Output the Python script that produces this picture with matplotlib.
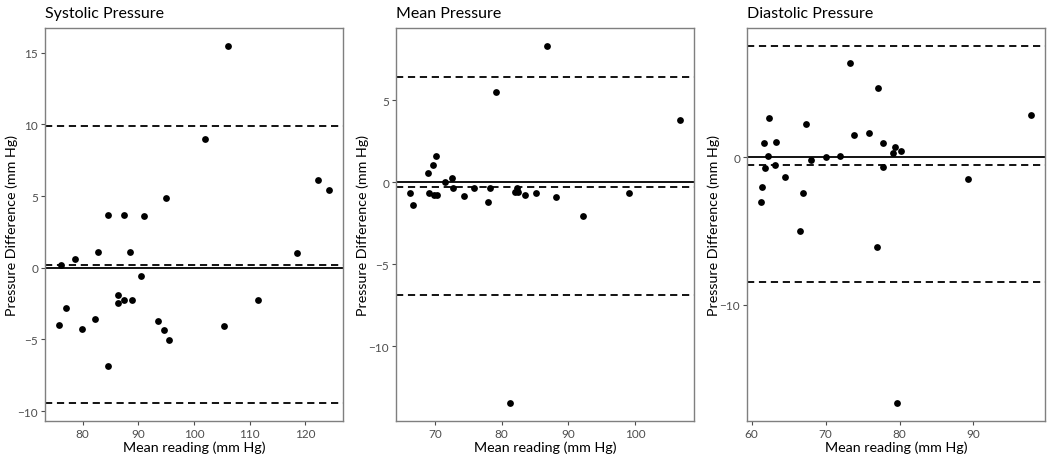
import matplotlib
matplotlib.use("Agg")
import matplotlib.pyplot as plt
import numpy as np

plt.rcParams['font.family'] = ['Lato', 'DejaVu Sans']

# systolic: mean reading vs difference
sys_mean = [106.1, 101.9, 122.3, 124.3, 94.9, 84.5, 87.4, 91.0, 82.8, 88.5, 118.4, 78.6, 76.1, 90.5,
            86.3, 86.3, 87.4, 88.8, 111.5, 77.0, 82.2, 75.7, 79.9, 93.6, 94.6, 95.6, 105.4, 84.5]
sys_diff = [15.48, 8.96, 6.15, 5.45, 4.85, 3.71, 3.71, 3.6, 1.07, 1.11, 1.04, 0.63, 0.21, -0.58,
            -1.90, -2.46, -2.25, -2.25, -2.25, -2.78, -3.55, -3.99, -4.25, -3.74, -4.32, -5.06, -4.08, -6.82]
sys_lines = [9.86, 0.21, -9.44]

# mean pressure
map_mean = [86.8, 79.1, 106.8, 70.1, 69.75, 68.95, 71.5, 72.5, 66.2, 66.7, 69.05, 69.9, 70.25, 72.7,
            74.4, 75.8, 77.9, 78.3, 82.0, 82.3, 82.5, 83.45, 85.1, 88.1, 92.2, 99.1, 81.3]
map_diff = [8.33, 5.51, 3.79, 1.64, 1.07, 0.59, 0.04, 0.28, -0.65, -1.40, -0.67, -0.77, -0.75, -0.36,
            -0.83, -0.36, -1.22, -0.32, -0.61, -0.34, -0.57, -0.77, -0.67, -0.87, -2.03, -0.63, -13.46]
map_lines = [6.43, -0.26, -6.89]

# diastolic
dia_mean = [73.3, 77.1, 97.85, 62.4, 67.3, 73.8, 75.85, 61.6, 63.3, 77.8, 79.4, 79.1, 80.2, 62.2,
            72.0, 70.1, 68.0, 61.75, 63.2, 77.7, 64.45, 61.4, 66.9, 61.2, 89.3, 66.6, 77.0, 79.6]
dia_diff = [6.40, 4.68, 2.88, 2.64, 2.27, 1.51, 1.64, 0.97, 1.06, 0.97, 0.72, 0.25, 0.43, 0.11,
            0.11, 0.0, -0.16, -0.72, -0.52, -0.65, -1.35, -2.0, -2.41, -3.04, -1.49, -4.98, -6.13, -16.69]
dia_lines = [7.55, -0.5, -8.49]

titles = ["Systolic Pressure", "Mean Pressure", "Diastolic Pressure"]
panels = [(sys_mean, sys_diff, sys_lines, [80, 90, 100, 110, 120], [-10, -5, 0, 5, 10, 15]),
          (map_mean, map_diff, map_lines, [70, 80, 90, 100], [-10, -5, 0, 5]),
          (dia_mean, dia_diff, dia_lines, [60, 70, 80, 90], [-10, 0])]

W, H = 1050, 460
fig = plt.figure(figsize=(W / 100, H / 100), dpi=100)
lefts = [45, 396, 747]
for i, (mx, dy, lines, xt, yt) in enumerate(panels):
    ax = fig.add_axes([lefts[i] / W, (H - 422) / H, 298 / W, 393 / H])
    ax.axhline(0, color='black', lw=1.3, zorder=1)
    for v in lines:
        ax.axhline(v, color='black', lw=1.3, ls=(0, (4, 2.6)), zorder=1)
    ax.scatter(mx, dy, s=24, color='black', zorder=3, linewidths=0)
    xr = max(mx) - min(mx)
    ax.set_xlim(min(mx) - 0.05 * xr, max(mx) + 0.05 * xr)
    ymin = min(min(dy), min(lines))
    ymax = max(max(dy), max(lines))
    yr = ymax - ymin
    ax.set_ylim(ymin - 0.05 * yr, ymax + 0.05 * yr)
    ax.set_xticks(xt)
    ax.set_yticks(yt)
    ax.set_yticklabels([str(t).replace('-', '\u2212') for t in yt])
    ax.tick_params(length=3, width=0.8, color='#4d4d4d', labelcolor='#4d4d4d', labelsize=8.5, pad=2)
    for s in ax.spines.values():
        s.set_color('#7f7f7f')
        s.set_linewidth(1.0)
    ax.set_xlabel("Mean reading (mm Hg)", fontsize=10.3, labelpad=1)
    ax.set_ylabel("Pressure Difference (mm Hg)", fontsize=10.3)
    ax.yaxis.set_label_coords(-0.09, 0.5)
    ax.set_title(titles[i], fontsize=11.5, loc='left', x=0.0, pad=8)

fig.savefig("out.png", dpi=100)
